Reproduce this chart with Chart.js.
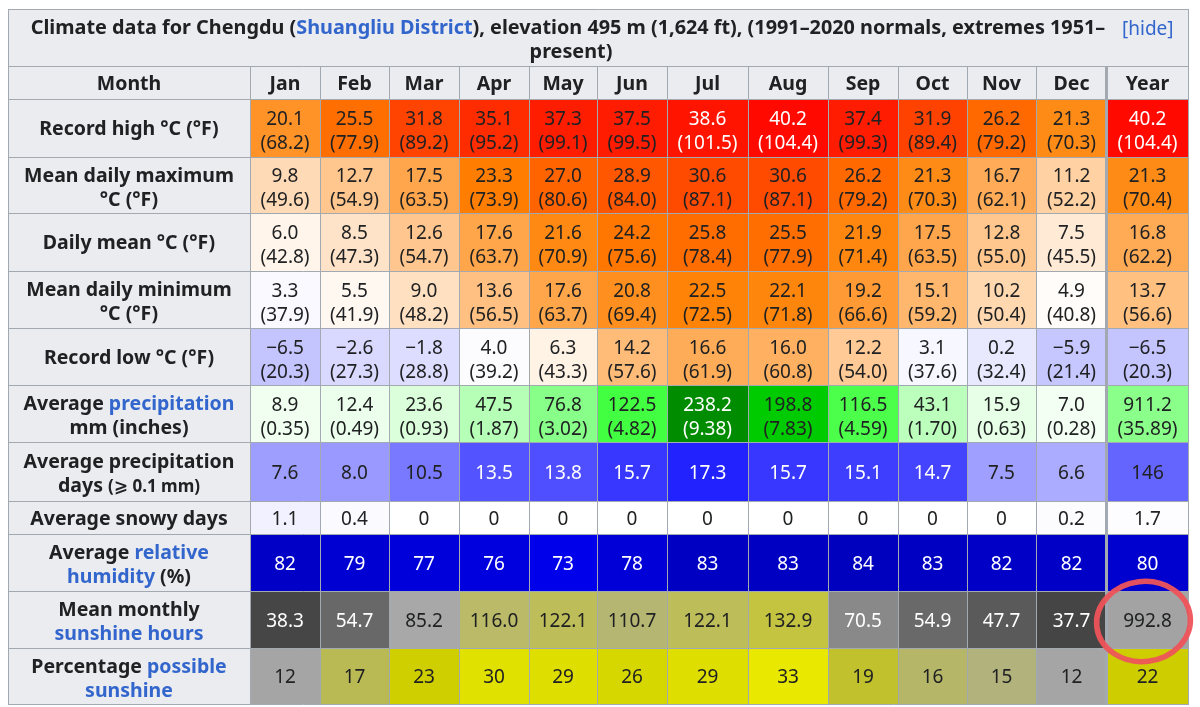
<!DOCTYPE html>
<html><head><meta charset="utf-8">
<script src="https://cdn.jsdelivr.net/npm/chart.js@4.4.1/dist/chart.umd.min.js"></script>
<style>html,body{margin:0;padding:0;background:#fff;}#wrap{width:1200px;height:707px;}</style>
</head><body><div id="wrap"><canvas id="c" width="1200" height="707"></canvas></div>
<script>
// ---------- DATA ----------
const columns = ["Jan","Feb","Mar","Apr","May","Jun","Jul","Aug","Sep","Oct","Nov","Dec","Year"];
const recordHighC = [20.1,25.5,31.8,35.1,37.3,37.5,38.6,40.2,37.4,31.9,26.2,21.3,40.2];
const recordHighF = [68.2,77.9,89.2,95.2,99.1,99.5,101.5,104.4,99.3,89.4,79.2,70.3,104.4];
const meanMaxC = [9.8,12.7,17.5,23.3,27.0,28.9,30.6,30.6,26.2,21.3,16.7,11.2,21.3];
const meanMaxF = [49.6,54.9,63.5,73.9,80.6,84.0,87.1,87.1,79.2,70.3,62.1,52.2,70.4];
const dailyMeanC = [6.0,8.5,12.6,17.6,21.6,24.2,25.8,25.5,21.9,17.5,12.8,7.5,16.8];
const dailyMeanF = [42.8,47.3,54.7,63.7,70.9,75.6,78.4,77.9,71.4,63.5,55.0,45.5,62.2];
const meanMinC = [3.3,5.5,9.0,13.6,17.6,20.8,22.5,22.1,19.2,15.1,10.2,4.9,13.7];
const meanMinF = [37.9,41.9,48.2,56.5,63.7,69.4,72.5,71.8,66.6,59.2,50.4,40.8,56.6];
const recordLowC = [-6.5,-2.6,-1.8,4.0,6.3,14.2,16.6,16.0,12.2,3.1,0.2,-5.9,-6.5];
const recordLowF = [20.3,27.3,28.8,39.2,43.3,57.6,61.9,60.8,54.0,37.6,32.4,21.4,20.3];
const precipMm = [8.9,12.4,23.6,47.5,76.8,122.5,238.2,198.8,116.5,43.1,15.9,7.0,911.2];
const precipIn = [0.35,0.49,0.93,1.87,3.02,4.82,9.38,7.83,4.59,1.70,0.63,0.28,35.89];
const precipDays = [7.6,8.0,10.5,13.5,13.8,15.7,17.3,15.7,15.1,14.7,7.5,6.6,146];
const snowyDays = [1.1,0.4,0,0,0,0,0,0,0,0,0,0.2,1.7];
const humidity = [82,79,77,76,73,78,83,83,84,83,82,82,80];
const sunshineHours = [38.3,54.7,85.2,116.0,122.1,110.7,122.1,132.9,70.5,54.9,47.7,37.7,992.8];
const possibleSunshine = [12,17,23,30,29,26,29,33,19,16,15,12,22];

const titleLine1 = [["Climate data for Chengdu (",0],["Shuangliu District",1],["), elevation 495 m (1,624 ft), (1991–2020 normals, extremes 1951–",0]];
const titleLine2 = [["present)",0]];
const headerLabel = "Month";

// ---------- LAYOUT (positions/sizes) ----------
const colEdges = [8,250,320,389,459,529,597,667,748,828,898,967,1036,1107,1188];
const rowEdges = [9,66,99,157,213,271,328,385,442,501,534,591,648,704];

const BLUE = "#3366cc", INK = "#202122", GRID = "#a2a9b1", HEAD = "#eaecf0";

const clamp = v => Math.max(0, Math.min(255, Math.round(v)));
function tempColor(t){
  if (t < 4.5){ const v = clamp(255*(t+42.75)/47.25); return [v,v,255]; }
  return [clamp(255*(60-t)/18.5), clamp(255*(41.5-t)/37), clamp(255*(23-t)/18.5)];
}
function precipColor(v){
  if (v < 165){ const k = clamp(255*(165-v)/165); return [k,255,k]; }
  return [0, clamp(255*(1-(v-165)/162)), 0];
}
function daysColor(d){ const k = clamp(255*(1-d/20)); return [k,k,255]; }
function humColor(h){ return [0,0,clamp(255-4*(h-68))]; }
function sunColor(s){
  if (s < 90){ const g = clamp(2.09*s-10); return [g,g,g]; }
  const r = clamp(170+(s-90)*0.6); return [r,r,clamp(162-2.25*(s-90))];
}
function pctColor(p){
  if (p < 13){ const g = clamp(13.75*p); return [g,g,g]; }
  const r = p <= 22 ? 170 + (p-13)*35/9 : 205 + (p-22)*27/11;
  return [clamp(r),clamp(r),clamp(165-20*(p-13))];
}
const palettes = {
  temp:{col:tempColor, white:v=>v>=38},
  precip:{col:precipColor, white:v=>v>=220},
  days:{col:daysColor, white:v=>v>=13},
  hum:{col:humColor, white:()=>true},
  sun:{col:sunColor, white:v=>v<80},
  pct:{col:pctColor, white:()=>false}
};

const tableRows = [
  {label:[[["Record high °C (°F)",0]]], kind:"temp", a:recordHighC, b:recordHighF, dec:1, decB:1},
  {label:[[["Mean daily maximum",0]],[["°C (°F)",0]]], kind:"temp", a:meanMaxC, b:meanMaxF, dec:1, decB:1},
  {label:[[["Daily mean °C (°F)",0]]], kind:"temp", a:dailyMeanC, b:dailyMeanF, dec:1, decB:1},
  {label:[[["Mean daily minimum",0]],[["°C (°F)",0]]], kind:"temp", a:meanMinC, b:meanMinF, dec:1, decB:1},
  {label:[[["Record low °C (°F)",0]]], kind:"temp", a:recordLowC, b:recordLowF, dec:1, decB:1},
  {label:[[["Average ",0],["precipitation",1]],[["mm (inches)",0]]], kind:"precip", a:precipMm, b:precipIn, dec:1, decB:2, yearScale:12},
  {label:[[["Average precipitation",0]],[["days ",0],["(⩾ 0.1 mm)",0,1]]], kind:"days", a:precipDays, dec:1, yearDec:0, yearScale:12},
  {label:[[["Average snowy days",0]]], kind:"days", a:snowyDays, dec:1, zeroPlain:true, yearScale:12},
  {label:[[["Average ",0],["relative",1]],[["humidity",1],[" (%)",0]]], kind:"hum", a:humidity, dec:0},
  {label:[[["Mean monthly",0]],[["sunshine hours",1]]], kind:"sun", a:sunshineHours, dec:1, yearScale:12},
  {label:[[["Percentage ",0],["possible",1]],[["sunshine",1]]], kind:"pct", a:possibleSunshine, dec:0}
];

function fmt(v, dec, zeroPlain){
  if (zeroPlain && v === 0) return "0";
  return (v < 0 ? "\u2212" : "") + Math.abs(v).toFixed(dec);
}
const FONT = '"Noto Sans", "DejaVu Sans", sans-serif';

function richWidth(ctx, segs, size){
  let w = 0;
  for (const s of segs){ ctx.font = `bold ${s[2]?size-2.5:size}px ${FONT}`; w += ctx.measureText(s[0]).width; }
  return w;
}
function drawRich(ctx, segs, cx, base, size){
  let x = cx - richWidth(ctx, segs, size)/2;
  ctx.textAlign = "left";
  for (const s of segs){
    ctx.font = `bold ${s[2]?size-2.5:size}px ${FONT}`;
    ctx.fillStyle = s[1] ? BLUE : INK;
    ctx.fillText(s[0], x, base);
    x += ctx.measureText(s[0]).width;
  }
}

const tablePlugin = {
  id:"climateTable",
  afterDraw(chart){
    const ctx = chart.ctx, sx = chart.scales.x, sy = chart.scales.y;
    const X = v => sx.getPixelForValue(v), Y = v => sy.getPixelForValue(v);
    const L = X(colEdges[0]), R = X(colEdges[colEdges.length-1]);
    const T = Y(rowEdges[0]), B = Y(rowEdges[rowEdges.length-1]);
    ctx.save();
    ctx.textBaseline = "alphabetic";
    // background
    ctx.fillStyle = HEAD;
    ctx.fillRect(L, T, R-L, B-T);
    // data cells
    tableRows.forEach((row, ri) => {
      const y0 = Y(rowEdges[ri+2]), y1 = Y(rowEdges[ri+3]);
      const pal = palettes[row.kind];
      row.a.forEach((v, ci) => {
        const x0 = X(colEdges[ci+1]), x1 = X(colEdges[ci+2]);
        const isYear = ci === columns.length-1;
        const cv = isYear && row.yearScale ? v/row.yearScale : v;
        const c = pal.col(cv);
        ctx.fillStyle = `rgb(${c[0]},${c[1]},${c[2]})`;
        ctx.fillRect(x0, y0, x1-x0, y1-y0);
        ctx.fillStyle = pal.white(cv) ? "#ffffff" : INK;
        ctx.font = `19px ${FONT}`;
        ctx.textAlign = "center";
        const cx = (x0+x1)/2, mid = (y0+y1)/2;
        const dec = isYear && row.yearDec !== undefined ? row.yearDec : row.dec;
        const t1 = fmt(v, dec, row.zeroPlain);
        if (row.b){
          ctx.fillText(t1, cx, mid - 3);
          ctx.fillText("(" + fmt(row.b[ci], row.decB) + ")", cx, mid + 21);
        } else {
          ctx.fillText(t1, cx, mid + 7);
        }
      });
      // row label
      const cx = (X(colEdges[0]) + X(colEdges[1]))/2, mid = (y0+y1)/2;
      if (row.label.length === 1) drawRich(ctx, row.label[0], cx, mid + 7, 19.5);
      else { drawRich(ctx, row.label[0], cx, mid - 3.5, 19.5); drawRich(ctx, row.label[1], cx, mid + 20.5, 19.5); }
    });
    // header row
    {
      const y0 = Y(rowEdges[1]), y1 = Y(rowEdges[2]), mid = (y0+y1)/2;
      drawRich(ctx, [[headerLabel,0]], (X(colEdges[0])+X(colEdges[1]))/2, mid + 7.5, 19.5);
      columns.forEach((m, ci) => {
        drawRich(ctx, [[m,0]], (X(colEdges[ci+1])+X(colEdges[ci+2]))/2, mid + 7.5, 19.5);
      });
    }
    // title
    {
      const target = 1075;
      const w20 = richWidth(ctx, titleLine1, 20);
      const size = 20 * target / w20;
      const cx = 568;
      drawRich(ctx, titleLine1, X(cx), Y(34), size);
      drawRich(ctx, titleLine2, X(cx+3), Y(57.5), size);
      ctx.font = `19px ${FONT}`;
      ctx.textAlign = "left";
      ctx.fillStyle = BLUE;
      ctx.fillText("[hide]", X(1122), Y(34.5));
    }
    // grid lines
    ctx.strokeStyle = GRID;
    ctx.lineWidth = 1;
    ctx.beginPath();
    rowEdges.forEach((e, i) => {
      const y = Math.round(Y(e)) + 0.5;
      ctx.moveTo(L, y); ctx.lineTo(R + 1, y);
    });
    colEdges.forEach((e, i) => {
      if (i === colEdges.length - 2) return;
      const x = Math.round(X(e)) + 0.5;
      const top = (i === 0 || i === colEdges.length-1) ? T : Y(rowEdges[1]);
      ctx.moveTo(x, top); ctx.lineTo(x, B + 1);
    });
    ctx.stroke();
    // thick border before Year column
    ctx.lineWidth = 3;
    ctx.beginPath();
    const xy = X(colEdges[colEdges.length-2]);
    ctx.moveTo(xy - 0.5, Y(rowEdges[1])); ctx.lineTo(xy - 0.5, B + 1);
    ctx.stroke();
    // red hand-drawn circle annotation around the yearly sunshine total
    const sunRow = 2 + tableRows.findIndex(r => r.a === sunshineHours);
    const ax = (X(colEdges[13]) + X(colEdges[14]))/2 - 4;
    const ay = (Y(rowEdges[sunRow]) + Y(rowEdges[sunRow+1]))/2 + 2;
    ctx.strokeStyle = "rgba(238,84,90,0.95)";
    ctx.lineWidth = 5.5;
    ctx.beginPath();
    ctx.ellipse(ax, ay, 47, 40, -0.12, 0, Math.PI*2);
    ctx.stroke();
    ctx.restore();
  }
};

new Chart(document.getElementById("c"), {
  type: "scatter",
  data: { datasets: [{ data: [], pointRadius: 0 }] },
  options: {
    responsive: false, animation: false, events: [],
    layout: { padding: 0 },
    plugins: { legend: { display: false }, tooltip: { enabled: false } },
    scales: {
      x: { type: "linear", min: 0, max: 1200, display: false },
      y: { type: "linear", min: 0, max: 707, reverse: true, display: false }
    }
  },
  plugins: [tablePlugin]
});
</script>
</body></html>
